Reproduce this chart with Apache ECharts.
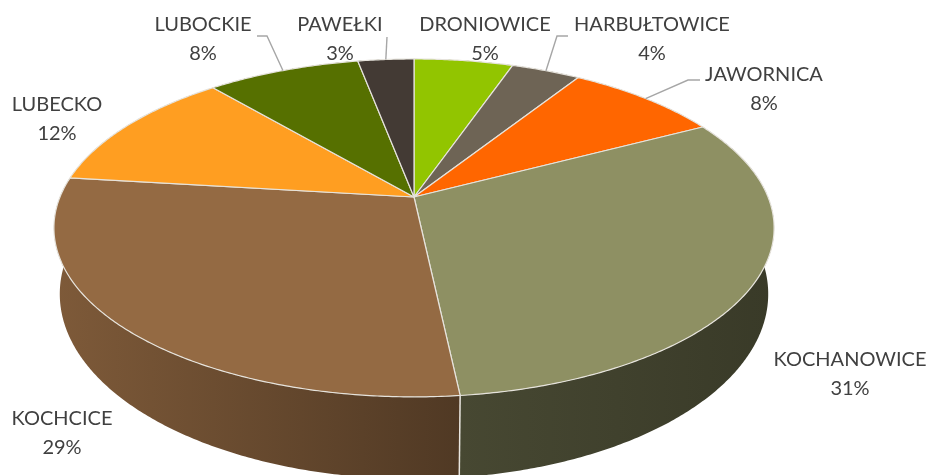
<!DOCTYPE html>
<html>
<head>
<meta charset="utf-8">
<style>html,body{margin:0;padding:0;background:#fff}#c{width:928px;height:475px}</style>
<script src="https://cdn.jsdelivr.net/npm/echarts@6/dist/echarts.min.js"></script>
</head>
<body>
<div id="c"></div>
<script>
// Data
const categories = ['DRONIOWICE','HARBUŁTOWICE','JAWORNICA','KOCHANOWICE','KOCHCICE','LUBECKO','LUBOCKIE','PAWEŁKI'];
const values = [5.3,3.7,8.3,31,28.6,11.9,8.2,3];
// Styles
const topColors = ['#92C500','#6E6455','#FF6600','#8E9063','#946A43','#FF9E21','#567000','#433A34'];
const wallShadeLeft = [.6,.6,.6,.5,.85,.6,.6,.6];
const wallShadeRight = [.5,.5,.5,.4,.54,.5,.5,.5];
// Layout: label centres and leader elbows (null = no leader)
const labelCenters = [[485,39],[652,39],[764,89],[850,374],[62,433],[57,119],[203,39],[340,39]];
const leaderElbows = [null,[[568,36],[557,36]],[[700,80],[688,80]],null,null,null,[[257,36],[267,36]],[[387,37]]];

// Perspective projection of the disc: (u,v) on the unit circle, z = 0 top, 1 bottom
const P = {cx:414, cy:197, R:354, S:163.3, D:64.7, k:-0.183, m:0.016, q:0.042};
function project(deg, z){
  const a = deg*Math.PI/180, u = Math.sin(a), v = -Math.cos(a);
  const w = 1 + P.k*v + P.m*z;
  return [P.cx + P.R*u/w, P.cy + (P.S*(1+P.q*z)*v + P.D*z)/w];
}
const total = values.reduce((s,x)=>s+x,0);
function angles(i){
  let s = 0; for(let j=0;j<i;j++) s += values[j];
  return [s/total*360, (s+values[i])/total*360];
}
function arc(a0,a1,z){
  const pts=[]; const n=Math.max(2,Math.ceil((a1-a0)*2));
  for(let t=0;t<=n;t++) pts.push(project(a0+(a1-a0)*t/n,z));
  return pts;
}
function shade(hex,f){
  const n=parseInt(hex.slice(1),16);
  return 'rgb('+[n>>16,(n>>8)&255,n&255].map(c=>Math.round(c*f)).join(',')+')';
}
const seriesData = values.map((v,i)=>({value:[i,v],name:categories[i]}));

function renderWall(params,api){
  const i=api.value(0), [a0,a1]=angles(i);
  const t=arc(a0,a1,0), b=arc(a0,a1,1);
  const pts=t.concat(b.slice().reverse());
  const xs=pts.map(p=>p[0]);
  const x0=Math.min(...xs), x1=Math.max(...xs);
  const fill=new echarts.graphic.LinearGradient(x0,0,x1,0,[
    {offset:0,color:shade(topColors[i],wallShadeLeft[i])},
    {offset:1,color:shade(topColors[i],wallShadeRight[i])}],true);
  return {type:'group',children:[
    {type:'polygon',shape:{points:pts},style:{fill:fill}},
    {type:'line',shape:{x1:t[0][0],y1:t[0][1],x2:b[0][0],y2:b[0][1]},style:{stroke:'#e9e6e0',lineWidth:1.5}}
  ]};
}
function renderTop(params,api){
  const i=api.value(0), [a0,a1]=angles(i);
  const pts=[[P.cx,P.cy]].concat(arc(a0,a1,0));
  return {type:'polygon',shape:{points:pts},style:{fill:topColors[i],stroke:'#e6e3dc',lineWidth:1.2,lineJoin:'round'}};
}
function renderLabel(params,api){
  const i=api.value(0), [a0,a1]=angles(i), c=labelCenters[i];
  const children=[{type:'text',style:{
    text:categories[i]+'\n'+Math.round(values[i]/total*100)+'%',
    x:c[0],y:c[1],align:'center',verticalAlign:'middle',
    fill:'#404040',font:'20px Lato',lineHeight:29}}];
  if(leaderElbows[i]){
    const pts=leaderElbows[i].concat([project((a0+a1)/2,0)]);
    children.push({type:'polyline',shape:{points:pts},style:{fill:'none',stroke:'#a6a6a6',lineWidth:1.4}});
  }
  return {type:'group',children};
}
const chart=echarts.init(document.getElementById('c'),null,{renderer:'canvas'});
chart.setOption({
  animation:false,
  backgroundColor:'#ffffff',
  series:[
    {type:'custom',coordinateSystem:'none',silent:true,z:1,renderItem:renderWall,data:seriesData},
    {type:'custom',coordinateSystem:'none',silent:true,z:2,renderItem:renderTop,data:seriesData},
    {type:'custom',coordinateSystem:'none',silent:true,z:3,renderItem:renderLabel,data:seriesData}
  ]
});
</script>
</body>
</html>
